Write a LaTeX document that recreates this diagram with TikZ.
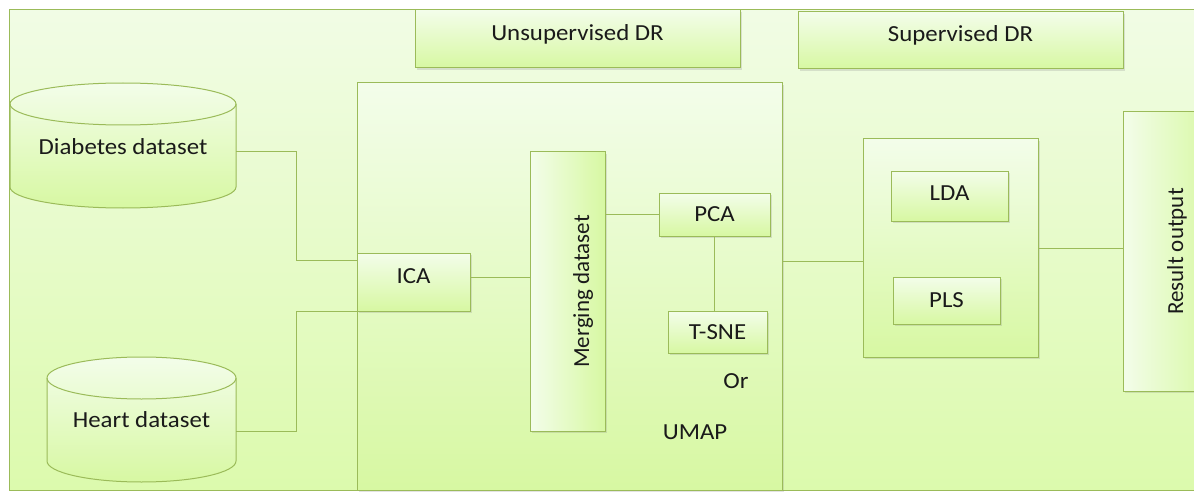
\documentclass[tikz,border=0pt]{standalone}
\usepackage{fontspec}
\setmainfont{Carlito}[FakeStretch=1.08]
\newfontfamily\rotfont{Carlito}
\usetikzlibrary{shadows}
\definecolor{ogreen}{HTML}{9BBB59}
\definecolor{bgtop}{HTML}{F1FCE5}
\definecolor{bgbot}{HTML}{DCFAAD}
\definecolor{bxtop}{HTML}{F3FDEA}
\definecolor{bxbot}{HTML}{D7F8A2}
\definecolor{txt}{HTML}{1A1A1A}
\begin{document}
\begin{tikzpicture}[x=1pt,y=1pt,
  font=\fontsize{23}{27}\selectfont,
  conn/.style={draw=ogreen, line width=1pt},
  vbox/.style={rectangle, draw=ogreen, line width=1pt, top color=bxtop, bottom color=bxbot,
    inner sep=0pt, text=txt, drop shadow={opacity=0.22, shadow xshift=1.5pt, shadow yshift=-2pt}},
  hbox/.style={vbox, left color=bxtop, right color=bxbot},
  cyl/.style={draw=ogreen, line width=1pt, top color=bxtop, bottom color=bxbot},
  lbl/.style={inner sep=0pt, text=txt}]
\useasboundingbox (0,0) rectangle (1194,-492);
\clip (0,0) rectangle (1194,-492);
% background panel
\path[draw=ogreen, line width=1pt, top color=bgtop, bottom color=bgbot] (9,-10) rectangle (1215,-490);
% cylinders
\path[cyl] (10,-104) -- (10,-187) arc[start angle=180,end angle=360,x radius=113pt,y radius=21pt]
  -- (236,-104) arc[start angle=0,end angle=180,x radius=113pt,y radius=21pt] -- cycle;
\draw[ogreen, line width=1pt] (10,-104) arc[start angle=180,end angle=360,x radius=113pt,y radius=21pt];
\path[cyl] (47,-378) -- (47,-461) arc[start angle=180,end angle=360,x radius=94.5pt,y radius=21pt]
  -- (236,-378) arc[start angle=0,end angle=180,x radius=94.5pt,y radius=21pt] -- cycle;
\draw[ogreen, line width=1pt] (47,-378) arc[start angle=180,end angle=360,x radius=94.5pt,y radius=21pt];
\node[lbl, minimum width=226pt] (diab) at (123,-147) {Diabetes dataset};
\node[lbl, minimum width=189pt] (heart) at (141.5,-420) {Heart dataset};
% header boxes
\node[vbox, minimum width=325pt, minimum height=58pt] (unsupdr) at (577.5,-39) {\raisebox{12pt}{Unsupervised DR}};
\node[vbox, minimum width=325pt, minimum height=57pt] (supdr) at (960.5,-40.5) {\raisebox{13pt}{Supervised DR}};
% main containers
\node[vbox, minimum width=425pt, minimum height=407pt] (unsup) at (569.5,-286.5) {};
\node[vbox, minimum width=175pt, minimum height=218pt] (supin) at (950.5,-248) {};
\node[hbox, minimum width=92pt, minimum height=279pt] (result) at (1169,-251.5) {\hspace*{16pt}\rotatebox{90}{\rotfont Result output}};
% inner boxes
\node[vbox, minimum width=113pt, minimum height=58pt] (ica) at (413.5,-282) {\raisebox{12pt}{ICA}};
\node[hbox, minimum width=75pt, minimum height=279pt] (merge) at (567.5,-291.5) {\hspace*{31pt}\rotatebox{90}{\rotfont Merging dataset}};
\node[vbox, minimum width=111pt, minimum height=43pt] (pca) at (714.5,-214.5) {PCA};
\node[vbox, minimum width=99pt, minimum height=42pt] (tsne) at (717.5,-332) {T-SNE};
\node[lbl] (or) at (736,-381) {Or};
\node[lbl] (umap) at (695,-432) {UMAP};
\node[vbox, minimum width=117pt, minimum height=50pt] (lda) at (949.5,-196) {\raisebox{6pt}{LDA}};
\node[vbox, minimum width=107pt, minimum height=47pt] (pls) at (946.5,-300.5) {PLS};
% connectors
\draw[conn] ([yshift=-5pt]diab.east) -- ++(60pt,0) |- ([yshift=22pt]ica.west);
\draw[conn] ([yshift=-11pt]heart.east) -- ++(60pt,0) |- (ica.south west);
\path (ica.east) ++(0,5pt) coordinate (c1);
\draw[conn] (c1) -- (c1 -| merge.west);
\draw[conn] (pca.west -| merge.east) -- (pca.west);
\draw[conn] (pca.south) -- (pca.south |- tsne.north);
\path (supin.west) ++(0,-13pt) coordinate (c2);
\draw[conn] (c2 -| unsup.east) -- (c2);
\draw[conn] (supin.east) -- (supin.east -| result.west);
\end{tikzpicture}
\end{document}
